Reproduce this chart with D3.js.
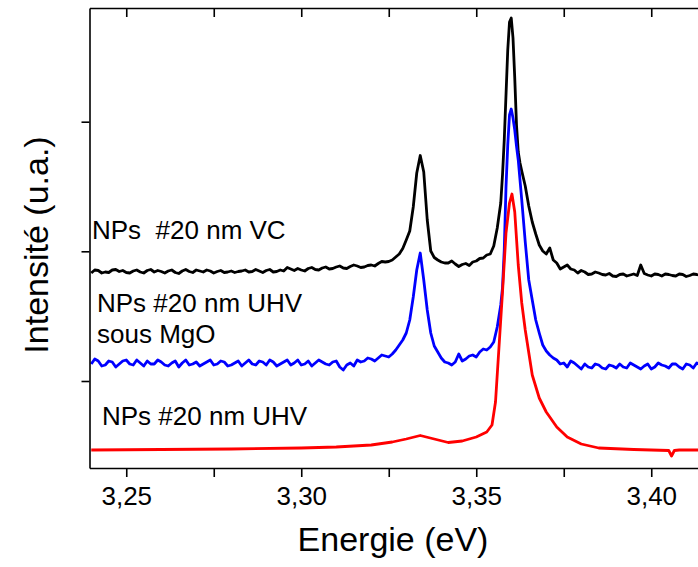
<!DOCTYPE html>
<html>
<head>
<meta charset="utf-8">
<script src="https://cdn.jsdelivr.net/npm/d3@7"></script>
<style>
  html, body { margin: 0; padding: 0; background: #fff; }
  svg { display: block; }
  text { font-family: "Liberation Sans", Arial, sans-serif; fill: #000; }
</style>
</head>
<body>
<div id="chart"></div>
<script>
// ---- Data (energy in eV, intensity in arbitrary units) ----
const energyGrid = [
  3.240,3.241,3.242,3.243,3.244,3.245,3.246,3.247,3.248,3.249,3.250,3.251,3.252,3.253,3.254,3.255,3.256,3.257,3.258,3.259,
  3.260,3.261,3.262,3.263,3.264,3.265,3.266,3.267,3.268,3.269,3.270,3.271,3.272,3.273,3.274,3.275,3.276,3.277,3.278,3.279,
  3.280,3.281,3.282,3.283,3.284,3.285,3.286,3.287,3.288,3.289,3.290,3.291,3.292,3.293,3.294,3.295,3.296,3.297,3.298,3.299,
  3.300,3.301,3.302,3.303,3.304,3.305,3.306,3.307,3.308,3.309,3.310,3.311,3.312,3.313,3.314,3.315,3.316,3.317,3.318,3.319,
  3.320,3.321,3.322,3.323,3.324,3.325,3.326,
  3.327,3.328,3.329,3.330,3.331,3.332,3.333,3.334,3.335,3.336,3.337,3.338,3.339,3.340,3.341,
  3.342,3.343,3.344,3.345,3.346,3.347,3.348,3.349,3.350,3.351,3.352,3.353,3.354,3.355,
  3.356,3.357,3.3575,3.358,3.3585,3.359,3.3595,3.360,3.3605,3.361,3.3615,3.362,3.3625,3.363,3.364,3.365,3.366,3.367,3.368,
  3.369,3.370,3.371,3.372,3.373,3.374,3.375,3.376,3.377,3.378,3.379,3.380,3.381,3.382,3.383,3.384,3.385,3.386,3.387,3.388,
  3.389,3.390,3.391,3.392,3.393,3.394,3.395,3.396,3.397,3.398,3.399,3.400,3.401,3.402,3.403,3.404,3.405,3.406,3.407,3.408,
  3.409,3.410,3.411,3.412,3.413,3.414
];
// NPs #20 nm VC (black)
const vcIntensity = [
  195,198,197.5,195,196,195.5,198,198.5,196.5,197.5,195.5,195,197,198,196,195,197.5,198.5,196,197.5,
  196.5,195,197,198,195.5,194.5,197,198.5,196.5,195.5,198,197,196,198,197,195,196.5,197.5,195.5,196,
  197,195.5,196.5,197,198,196,196.5,198.5,197,195.5,197.5,198.5,196,196.5,198,197,200.5,199,197.5,199.5,
  198,197,199.5,200.5,198.5,198,200,201,199,199.5,201,202,200,199.5,201.5,203,202,200.5,201,202.5,
  203,202,204.5,206.5,206,206.5,208,
  211,214,219.5,228,237,261,295,312.5,296,248,217,210.5,208,206,205,
  205,207,204,201.5,203.5,204.5,202.5,206,207,209.5,210,213,214,222,
  240,265,293,328,373,418,446,450,430,390,343,316,305,297,282,262,246,234,223,
  217,214,220,208,205,199,201,203,199,198,195,197.5,196,193.5,194,196,195,193.5,193,194.5,
  192,191.5,193.5,194,192,193,194,192.5,203,194.5,193,192,194,193.5,192,194,193.5,192.5,192,194,
  193.5,191.5,192.5,194,193.5,192.5
];
// NPs #20 nm UHV sous MgO (blue)
const mgoIntensity = [
  104,109,107,102,103,107,106,101,104,107,108,104,103,108,105,102,107,104,104,108,
  106,103,102,105,107,101,105,108,103,104,106,102,104,106,108,103,104,107,106,102,
  103,105,107,102,105,108,104,103,107,106,103,108,106,102,104,106,108,103,105,108,
  103,104,107,102,105,108,106,104,103,106,107,101,98,103,105,102,108,106,107,110,
  109,107,110,113,112,111,114,
  118,123,128,135,148,171,198,215,188,158,135,122,116,110,106,
  105,103,106,114,107,109,112,113,111,116,119,118,121,126,
  141,163,180,218,281,323,353,359,350,338,322,308,288,268,226,188,168,148,135,
  123,117,113,110,108,104,105,101,107,105,102,99,104,101,100,104,103,100,99,103,
  102,100,104,101,100,105,103,101,99,102,104,99,101,105,103,102,100,104,104,101,
  99,104,103,100,105,103
];
// NPs #20 nm UHV (red)
const uhvEnergy = [3.240,3.260,3.280,3.300,3.310,3.320,3.326,3.330,3.334,3.338,3.342,3.346,3.350,3.353,3.3545,3.3555,3.3565,3.3575,3.3585,3.3595,3.3602,3.361,3.362,3.363,3.364,3.366,3.368,3.370,3.373,3.376,3.380,3.385,3.395,3.405,3.4058,3.4066,3.408,3.414];
const uhvIntensity = [18,18.5,19,20,21,23,26,29,32.5,29,25.5,27,31,36,43,66,121,176,235,265,274,256,203,165,138,93,70,56,41,31,24,20,18.5,17.5,12,17.5,18,18];

const xTicks = [3.25,3.275,3.30,3.325,3.35,3.375,3.40];
const xTickLabels = ["3,25","","3,30","","3,35","","3,40"];
const yTicks = [87, 216.7, 346.3];
const seriesNames = ["NPs  #20 nm VC", "NPs #20 nm UHV", "sous MgO", "NPs #20 nm UHV"];
const seriesColors = ["#000000", "#0000ff", "#ff0000"];

// ---- Chart ----
const W = 698, H = 567;
const svg = d3.select("#chart").append("svg").attr("width", W).attr("height", H);
svg.append("rect").attr("width", W).attr("height", H).attr("fill", "#fff");

const x = d3.scaleLinear().domain([3.2395, 3.42]).range([89.5, 721.25]);
const y = d3.scaleLinear().domain([0, 460]).range([468, 8]);

const line = d3.line().x(d => x(d[0])).y(d => y(d[1]));
const series = [
  d3.zip(energyGrid, vcIntensity),
  d3.zip(energyGrid, mgoIntensity),
  d3.zip(uhvEnergy, uhvIntensity)
];
series.forEach((s, i) => {
  svg.append("path").datum(s)
    .attr("fill", "none")
    .attr("stroke", seriesColors[i])
    .attr("stroke-width", 2.8)
    .attr("stroke-linejoin", "round")
    .attr("d", line);
});

// axes
const styleAxis = g => {
  g.selectAll(".domain").attr("stroke", "#000").attr("stroke-width", 1.6);
  g.selectAll(".tick line").attr("stroke", "#000").attr("stroke-width", 1.6);
};
svg.append("g").attr("transform", `translate(0,${y(0)})`)
  .call(d3.axisBottom(x).tickValues(xTicks).tickSizeInner(9).tickSizeOuter(0).tickPadding(10)
    .tickFormat((d, i) => xTickLabels[i]))
  .call(styleAxis)
  .call(g => g.selectAll(".tick text").attr("font-size", 26).attr("font-family", "Liberation Sans, Arial, sans-serif").attr("fill", "#000"));

svg.append("g").attr("transform", `translate(0,${y(460)})`)
  .call(d3.axisTop(x).tickValues(xTicks).tickSizeInner(-9).tickSizeOuter(0).tickFormat(""))
  .call(styleAxis);

svg.append("g").attr("transform", `translate(${x(3.2395)},0)`)
  .call(d3.axisLeft(y).tickValues(yTicks).tickSizeInner(8).tickSizeOuter(0).tickFormat(""))
  .call(styleAxis);

// series labels
const lab = (t, lx, ly) => svg.append("text").attr("x", lx).attr("y", ly)
  .attr("font-size", 26).style("white-space", "pre").text(t);
lab(seriesNames[0], 92, 239);
lab(seriesNames[1], 97, 311.5);
lab(seriesNames[2], 97, 343);
lab(seriesNames[3], 102, 425);

// axis titles
svg.append("text").attr("x", 393).attr("y", 551).attr("text-anchor", "middle")
  .attr("font-size", 34).text("Energie (eV)");
svg.append("text").attr("transform", "translate(48,245) rotate(-90)").attr("text-anchor", "middle")
  .attr("font-size", 34).text("Intensité (u.a.)");
</script>
</body>
</html>
